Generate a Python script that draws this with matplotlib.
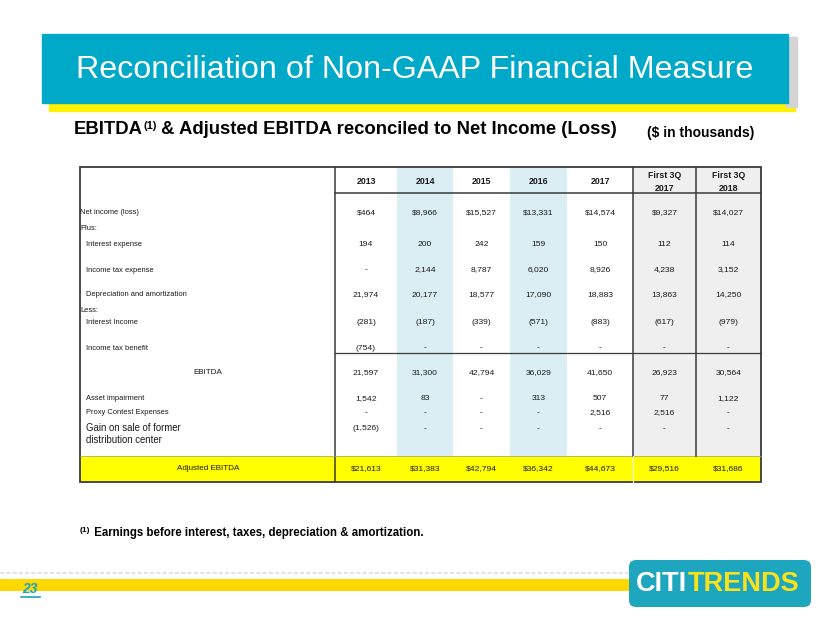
import matplotlib
matplotlib.use("Agg")
import matplotlib.pyplot as plt
from matplotlib.patches import Rectangle, FancyBboxPatch

# ---------------- data ----------------
col_labels = ["2013", "2014", "2015", "2016", "2017", "First 3Q\n2017", "First 3Q\n2018"]
row_labels = ["Net income (loss)", "Interest expense", "Income tax expense",
              "Depreciation and amortization", "Interest Income", "Income tax benefit",
              "EBITDA", "Asset impairment", "Proxy Contest Expenses",
              "Gain on sale of former\ndistribution center", "Adjusted EBITDA"]
net_income = [464, 8966, 15527, 13331, 14574, 9327, 14027]
interest_expense = [194, 200, 242, 159, 150, 112, 114]
income_tax_expense = [None, 2144, 8787, 6020, 8926, 4238, 3152]
depreciation_amortization = [21974, 20177, 18577, 17090, 18883, 13863, 14250]
interest_income = [-281, -187, -339, -571, -883, -617, -979]
income_tax_benefit = [-754, None, None, None, None, None, None]
ebitda = [21597, 31300, 42794, 36029, 41650, 26923, 30564]
asset_impairment = [1542, 83, None, 313, 507, 77, 1122]
proxy_contest = [None, None, None, None, 2516, 2516, None]
gain_on_sale = [-1526, None, None, None, None, None, None]
adjusted_ebitda = [21613, 31383, 42794, 36342, 44673, 29516, 31686]

row_values = [net_income, interest_expense, income_tax_expense, depreciation_amortization,
              interest_income, income_tax_benefit, ebitda, asset_impairment,
              proxy_contest, gain_on_sale, adjusted_ebitda]
dollar_rows = {0, 10}

# ---------------- layout ----------------
FONT = "Liberation Sans"
plt.rcParams["font.family"] = [FONT, "DejaVu Sans"]

fig = plt.figure(figsize=(8.3, 6.23), dpi=100)
ax = fig.add_axes([0, 0, 1, 1])
ax.set_xlim(0, 830)
ax.set_ylim(623, 0)
ax.axis("off")
renderer = fig.canvas.get_renderer()

TEAL = "#00A9C7"
TXT = "#1a1a1a"

# title banner
ax.add_patch(Rectangle((49, 100), 746, 11, color="#FFF200", zorder=1))
ax.add_patch(Rectangle((786, 37), 11, 70, color="#D4D4D4", zorder=1))
ax.add_patch(Rectangle((42, 34), 746, 69, color=TEAL, zorder=2))
ax.text(415, 70, "Reconciliation of Non-GAAP Financial Measure", color="white",
        fontsize=23.2, ha="center", va="center", zorder=3)


def seq(x, y, parts):
    for s, kw, dy in parts:
        t = ax.text(x, y + dy, s, va="center", ha="left", **kw)
        bb = t.get_window_extent(renderer)
        x += bb.width


seq(74, 130, [("EBITDA", dict(fontsize=13.3, fontweight="bold", color="black"), 0),
              ("(1)", dict(fontsize=8, fontweight="bold", color="black"), -4),
              (" & Adjusted EBITDA reconciled to Net Income (Loss)",
               dict(fontsize=13.3, fontweight="bold", color="black"), 0)])
ax.text(647, 133, "($ in thousands)", fontsize=10, fontweight="bold", color="black",
        ha="left", va="center")

# ---------------- table ----------------
x_edges = [335, 397, 453, 510, 567, 633, 696, 761]
TL, TR, TT, TB = 80, 761, 167, 482
YB_TOP = 456
header_y = 182
row_y = [213, 245, 270, 295, 323, 348, 373, 399, 413, 429, 469]
label_y = [213, 245, 270, 295, 323, 348, 373, 399, 413, 434, 469]
label_x = [80, 86, 86, 86, 86, 86, None, 86, 86, 86, None]

BLUE = "#DAEEF3"
GRAY = "#EFEFEF"
for i in (1, 3):
    ax.add_patch(Rectangle((x_edges[i], TT), x_edges[i + 1] - x_edges[i], YB_TOP - TT,
                           color=BLUE, zorder=1, lw=0))
ax.add_patch(Rectangle((x_edges[5], TT), x_edges[7] - x_edges[5], YB_TOP - TT,
                       color=GRAY, zorder=1, lw=0))
ax.add_patch(Rectangle((TL, YB_TOP), TR - TL, TB - YB_TOP, color="#FFFF00", zorder=1, lw=0))

LC = "#3a3a3a"
ax.add_patch(Rectangle((TL, TT), TR - TL, TB - TT, fill=False, ec=LC, lw=1.3, zorder=4))
ax.plot([335, 335], [TT, TB], color=LC, lw=1.1, zorder=4)
ax.plot([335, TR], [193, 193], color=LC, lw=1.1, zorder=4)
ax.plot([335, TR], [353, 353], color=LC, lw=0.9, zorder=4)
ax.plot([TL, TR], [YB_TOP, YB_TOP], color="#9a9a9a", lw=0.5, zorder=4)
for xe in (633, 696):
    ax.plot([xe, xe], [TT, YB_TOP], color=LC, lw=1.1, zorder=4)
ax.plot([633, 633], [YB_TOP, TB], color="white", lw=0.8, zorder=4)

LFS = 5.4
ax.text(80, 228, "Plus:", fontsize=LFS, color=TXT, ha="left", va="center", zorder=5)
ax.text(80, 311, "Less:", fontsize=LFS, color=TXT, ha="left", va="center", zorder=5)

centers = [(x_edges[i] + x_edges[i + 1]) / 2 for i in range(7)]
for c, lab in zip(centers, col_labels):
    ax.text(c, header_y, lab, fontsize=6.3, fontweight="bold", color=TXT, ha="center",
            va="center", linespacing=1.45, zorder=5)


def fmt(v, dollar):
    if v is None:
        return "-"
    s = f"{abs(v):,}"
    if dollar:
        s = "$" + s
    if v < 0:
        s = "(" + s + ")"
    return s


for r, (lab, vals) in enumerate(zip(row_labels, row_values)):
    if label_x[r] is None:
        ax.text(208, label_y[r], lab, fontsize=5.8, color=TXT, ha="center", va="center", zorder=5)
    else:
        fs = 6.9 if "\n" in lab else LFS
        ax.text(label_x[r], label_y[r], lab, fontsize=fs, color=TXT, ha="left", va="center",
                linespacing=1.3, zorder=5)
    for c, v in zip(centers, vals):
        ax.text(c, row_y[r], fmt(v, r in dollar_rows), fontsize=6.1, color=TXT,
                ha="center", va="center", zorder=5)

# footnote
seq(80, 533, [("(1)", dict(fontsize=6, fontweight="bold", color="black"), -3),
              (" Earnings before interest, taxes, depreciation & amortization.",
               dict(fontsize=8.3, fontweight="bold", color="black"), 0)])

# ---------------- footer ----------------
ax.plot([0, 628], [573, 573], color="#E2E2E2", lw=1.5, ls=(0, (2, 1)), zorder=1)
ax.add_patch(Rectangle((0, 579), 632, 12, color="#FFD800", zorder=2, lw=0))
ax.text(22, 589, "23", fontsize=10, fontweight="bold", fontstyle="italic", color="#1BA3C6",
        ha="left", va="center", zorder=3)
ax.plot([21, 40], [597, 597], color="#1BA3C6", lw=1.2, zorder=3)

ax.add_patch(FancyBboxPatch((632, 563), 176, 41, boxstyle="round,pad=3,rounding_size=7",
                            fc="#1FA6BF", ec="none", zorder=3))
seq(636, 584, [("CITI", dict(fontsize=19.5, fontweight="bold", color="white", zorder=4), 0),
               ("TRENDS", dict(fontsize=19.5, fontweight="bold", color="#F7E21B", zorder=4), 0)])

fig.savefig("out.png", dpi=100)
